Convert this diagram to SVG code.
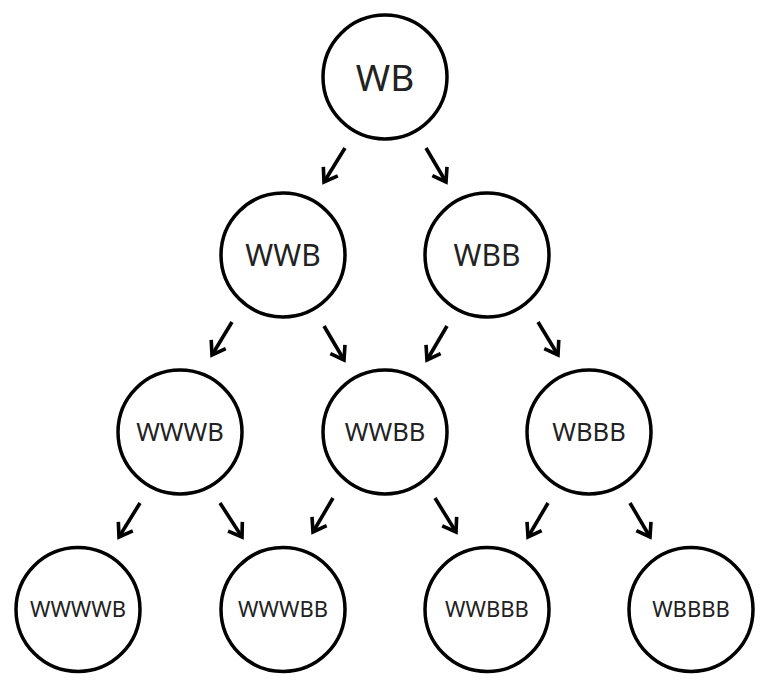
<svg xmlns="http://www.w3.org/2000/svg" width="766" height="681" viewBox="0 0 766 681">
  <style>
    .node circle { fill: #fff; stroke: #000; stroke-width: 3.5; }
    .node text { font-family: "Noto Sans", "Open Sans", sans-serif; fill: #222; text-anchor: middle; }
    .edges line { stroke: #000; stroke-width: 3.6; marker-end: url(#head); }
  </style>
  <defs>
    <marker id="head" markerUnits="userSpaceOnUse" viewBox="-18 -12 22 24" refX="0" refY="0" markerWidth="22" markerHeight="24" orient="auto">
      <path d="M -12.5 -8.5 L 0 0 L -12.5 8.5" fill="none" stroke="#000" stroke-width="3.6" stroke-linejoin="miter"/>
    </marker>
  </defs>
  <rect width="766" height="681" fill="#fff"/>

  <g class="edges">
    <line x1="345" y1="148" x2="324" y2="182"/>
    <line x1="426" y1="148" x2="446" y2="182"/>
    <line x1="232" y1="322" x2="212" y2="355"/>
    <line x1="324" y1="326" x2="344" y2="360"/>
    <line x1="447" y1="326" x2="427" y2="360"/>
    <line x1="538" y1="322" x2="558" y2="355"/>
    <line x1="140" y1="503" x2="119" y2="537"/>
    <line x1="220" y1="503" x2="242" y2="537"/>
    <line x1="333" y1="498" x2="313" y2="532"/>
    <line x1="435" y1="498" x2="456" y2="532"/>
    <line x1="548" y1="503" x2="528" y2="537"/>
    <line x1="630" y1="503" x2="650" y2="537"/>
  </g>

  <g id="n-WB" class="node">
    <circle cx="385" cy="77" r="62"/>
    <text x="385" y="90.5" font-size="37">WB</text>
  </g>
  <g id="n-WWB" class="node">
    <circle cx="283" cy="255" r="62"/>
    <text x="283" y="265.7" font-size="30">WWB</text>
  </g>
  <g id="n-WBB" class="node">
    <circle cx="487" cy="255" r="62"/>
    <text x="487" y="265.7" font-size="30">WBB</text>
  </g>
  <g id="n-WWWB" class="node">
    <circle cx="180" cy="432" r="62"/>
    <text x="180" y="441.2" font-size="25.5">WWWB</text>
  </g>
  <g id="n-WWBB" class="node">
    <circle cx="385" cy="432" r="62"/>
    <text x="385" y="441.2" font-size="25.5">WWBB</text>
  </g>
  <g id="n-WBBB" class="node">
    <circle cx="589" cy="432" r="62"/>
    <text x="589" y="441.2" font-size="25.5">WBBB</text>
  </g>
  <g id="n-WWWWB" class="node">
    <circle cx="78" cy="609.5" r="62"/>
    <text x="78" y="617.4" font-size="22">WWWWB</text>
  </g>
  <g id="n-WWWBB" class="node">
    <circle cx="283" cy="609.5" r="62"/>
    <text x="283" y="617.4" font-size="22">WWWBB</text>
  </g>
  <g id="n-WWBBB" class="node">
    <circle cx="487" cy="609.5" r="62"/>
    <text x="487" y="617.4" font-size="22">WWBBB</text>
  </g>
  <g id="n-WBBBB" class="node">
    <circle cx="691" cy="609.5" r="62"/>
    <text x="691" y="617.4" font-size="22">WBBBB</text>
  </g>
</svg>
